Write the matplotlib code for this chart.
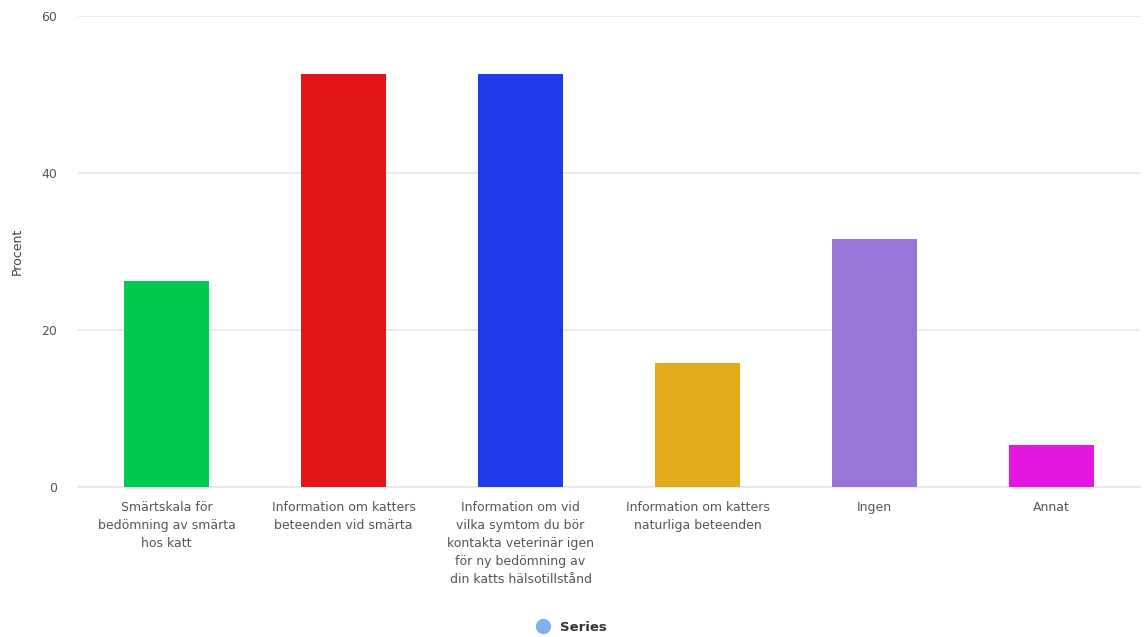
import numpy as np
import matplotlib.pyplot as plt
from matplotlib.lines import Line2D

categories = ['Smärtskala för\nbedömning av smärta\nhos katt',
              'Information om katters\nbeteenden vid smärta',
              'Information om vid\nvilka symtom du bör\nkontakta veterinär igen\nför ny bedömning av\ndin katts hälsotillstånd',
              'Information om katters\nnaturliga beteenden',
              'Ingen',
              'Annat']
values = [26.3, 52.6, 52.6, 15.8, 31.6, 5.3]
colors = ['#00c94f', '#e31519', '#1f3ae6', '#e3aa1c', '#9676d6', '#e616e0']

plt.rcParams['font.family'] = ['DejaVu Sans']

fig = plt.figure(figsize=(11.48, 6.37), dpi=100)
ax = fig.add_axes([0.068, 0.2355, 0.925, 0.7395])

x = np.arange(len(categories))
ax.bar(x, values, width=0.48, color=colors, zorder=3)

ax.set_xlim(-0.5, len(categories) - 0.5)
ax.set_ylim(0, 60)
ax.set_yticks([0, 20, 40, 60])
ax.set_xticks(x)
ax.set_xticklabels(categories, fontsize=9, color='#555555', linespacing=1.5, va='top')
ax.tick_params(axis='both', length=0, labelsize=9, colors='#555555')
ax.tick_params(axis='x', pad=10)
ax.tick_params(axis='y', pad=15)
ax.grid(axis='y', color='#e6e6e6', linewidth=1.2, zorder=0)
for s in ['top', 'right', 'left']:
    ax.spines[s].set_visible(False)
ax.spines['bottom'].set_color('#e6e6e6')
ax.spines['bottom'].set_linewidth(1.2)
ax.set_ylabel('Procent', fontsize=9, color='#444444', labelpad=13)

handle = Line2D([], [], marker='o', linestyle='', markersize=10,
                markerfacecolor='#7fb2e8', markeredgecolor='#7fb2e8')
fig.legend([handle], ['Series'], loc='center', bbox_to_anchor=(0.495, 0.015),
           frameon=False, prop={'size': 9.5, 'weight': 'bold'}, handletextpad=0.3,
           labelcolor='#333333')

fig.savefig('out.png', dpi=100)
